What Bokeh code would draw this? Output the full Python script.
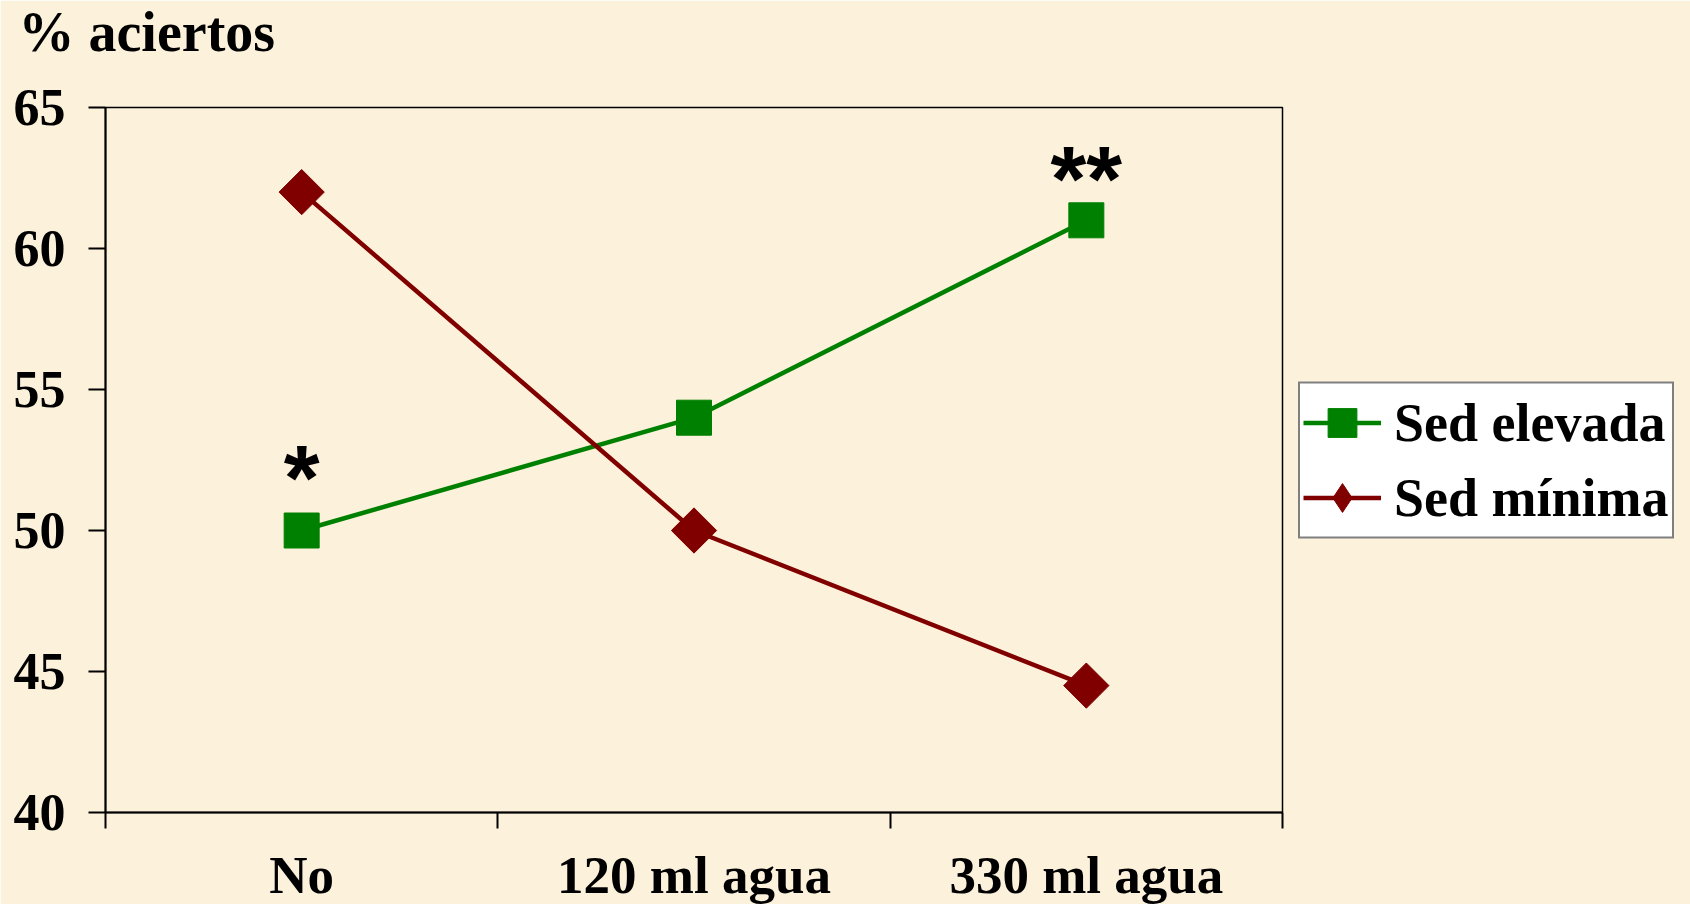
import math
from bokeh.plotting import figure
from bokeh.models import (FactorRange, Range1d, LinearAxis, FixedTicker, Legend,
                          LegendItem, Title)
from bokeh.core.properties import value
from bokeh.embed import file_html
from bokeh.resources import INLINE

# ---- data ----
categories = ["No", "120 ml agua", "330 ml agua"]
sed_elevada = [50, 54, 61]
sed_minima = [62, 50, 44.5]
series_names = ["Sed elevada", "Sed mínima"]
y_ticks = [40, 45, 50, 55, 60, 65]
y_title = "% aciertos"
star_categories = ["No", "330 ml agua"]
star_texts = ["*", "**"]
star_y = [51.85, 62.45]

# ---- style ----
FONT = "Liberation Serif"
BG = "#FCF1DA"
GREEN = "#008000"
RED = "#800000"

p = figure(frame_width=1177, frame_height=705,
           x_range=FactorRange(*categories), y_range=Range1d(40, 65),
           x_axis_location=None, y_axis_location=None,
           output_backend="svg", toolbar_location=None,
           min_border_left=105, min_border_right=408,
           min_border_top=107, min_border_bottom=92,
           background_fill_color=BG, border_fill_color=BG,
           outline_line_color="black", outline_line_width=1.5)
p.grid.visible = False
p.title.visible = False

# factor centres / boundaries in the factor range's synthetic coordinates
centres = [i + 0.5 for i in range(len(categories))]
bounds = list(range(len(categories) + 1))

# invisible spacer axis just above the frame; the title sits outside it
spacer = LinearAxis(ticker=FixedTicker(ticks=centres[:1], minor_ticks=[]),
                    major_label_overrides={centres[0]: ""})
spacer.axis_line_color = None
spacer.major_tick_line_color = None
spacer.minor_tick_line_color = None
spacer.major_tick_out = 43
spacer.major_tick_in = 0
spacer.minor_tick_out = 0
spacer.major_label_standoff = 0
spacer.major_label_text_font_size = "0px"
p.add_layout(spacer, "above")

p.add_layout(Title(text=y_title, align="left", offset=-87, standoff=0,
                   vertical_align="top",
                   text_font=FONT, text_font_style="bold", text_font_size="56px",
                   text_color="black"), "above")

yaxis = LinearAxis(ticker=FixedTicker(ticks=y_ticks, minor_ticks=[]))
yaxis.axis_line_width = 2
yaxis.major_tick_line_width = 2
yaxis.major_tick_out = 17
yaxis.major_tick_in = 0
yaxis.minor_tick_line_color = None
yaxis.major_label_standoff = 23
yaxis.major_label_text_font = FONT
yaxis.major_label_text_font_style = "bold"
yaxis.major_label_text_font_size = "52px"
yaxis.major_label_text_color = "black"
p.add_layout(yaxis, "left")

xaxis = LinearAxis(ticker=FixedTicker(ticks=centres, minor_ticks=bounds),
                   major_label_overrides={c: cat for c, cat in zip(centres, categories)})
xaxis.axis_line_width = 2
xaxis.major_tick_line_color = None
xaxis.major_tick_out = 0
xaxis.major_tick_in = 0
xaxis.minor_tick_line_width = 2
xaxis.minor_tick_line_color = "black"
xaxis.minor_tick_out = 16
xaxis.minor_tick_in = 0
xaxis.major_label_standoff = 17
xaxis.major_label_text_font = FONT
xaxis.major_label_text_font_style = "bold"
xaxis.major_label_text_font_size = "53px"
xaxis.major_label_text_color = "black"
p.add_layout(xaxis, "below")

l1 = p.line(x=categories, y=sed_elevada, line_color=GREEN, line_width=4.5)
s1 = p.scatter(x=categories, y=sed_elevada, marker="square", size=35,
               fill_color=GREEN, line_color=GREEN)
l2 = p.line(x=categories, y=sed_minima, line_color=RED, line_width=4.5)
s2 = p.scatter(x=categories, y=sed_minima, marker="square", size=32,
               angle=math.pi / 4, fill_color=RED, line_color=RED)
# legend key for the diamond series (legend keys are drawn unrotated)
d_key = p.scatter(x=categories, y=sed_minima, marker="diamond", size=0,
                  fill_color=RED, line_color=RED)

p.text(x=star_categories, y=star_y, text=star_texts,
       text_font=value("Liberation Sans"), text_font_style="bold", text_font_size="92px",
       text_align="center", text_baseline="alphabetic", text_color="black")

legend = Legend(items=[LegendItem(label=series_names[0], renderers=[l1, s1]),
                       LegendItem(label=series_names[1], renderers=[l2, d_key])],
                location="center_left", orientation="vertical",
                border_line_color="black", border_line_width=2,
                background_fill_color="white", background_fill_alpha=1.0,
                label_text_font=FONT, label_text_font_style="bold",
                label_text_font_size="54px", label_text_color="black",
                glyph_width=78, glyph_height=72, label_height=72,
                label_standoff=13, padding=3, spacing=3, margin=16)
p.add_layout(legend, "right")

open("out.html", "w").write(file_html(p, INLINE))
